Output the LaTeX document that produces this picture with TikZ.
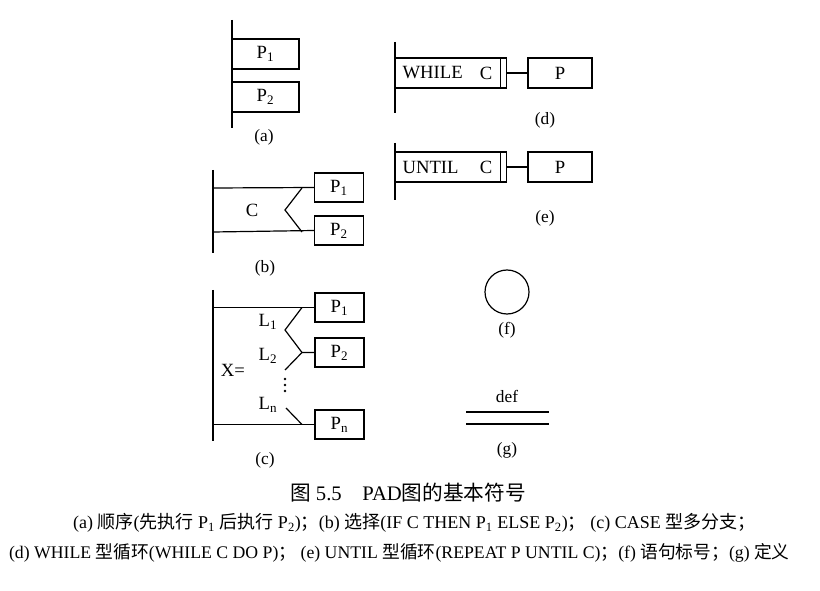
\documentclass[tikz,border=0pt]{standalone}
\usepackage{fontspec}
\setmainfont{Liberation Serif}
\newfontfamily\cjk{Noto Sans CJK SC}
\newcommand{\zh}[1]{{\cjk #1}}
\tikzset{
  caja/.style={draw, inner sep=0pt, minimum width=36.75pt, minimum height=21.75pt, font=\fontsize{14}{16}\selectfont},
  cajaa/.style={caja, minimum width=50.25pt, minimum height=22.5pt},
  cajap/.style={caja, minimum width=48pt, minimum height=22.5pt},
  cajabucle/.style={caja, minimum width=83.25pt, minimum height=22.5pt},
  texto/.style={inner sep=0pt, font=\fontsize{14}{16}\selectfont},
  rotulo/.style={font=\fontsize{13}{15}\selectfont},
  pie/.style={font=\fontsize{13.5}{16}\selectfont, anchor=west},
}
\begin{document}
\begin{tikzpicture}[x=0.75pt, y=-0.75pt, line width=0.9pt]
    \useasboundingbox (0,0) rectangle (820,591);

    % (a) Secuencia
    \coordinate (aarr) at (232,20);
    \coordinate (aab) at (232,128);
    \draw (aarr) -- (aab);
    \node[cajaa] (pa1) at (265.5,54) {P\textsubscript{1}};
    \node[cajaa] (pa2) at (265.5,97) {P\textsubscript{2}};
    \node[rotulo] (la) at (264,137) {(a)};

    % (b) Seleccion
    \coordinate (barr) at (213,170);
    \coordinate (bab) at (213,253);
    \draw (barr) -- (bab);
    \node[caja] (pb1) at (339,187.5) {P\textsubscript{1}};
    \node[caja] (pb2) at (339,230.5) {P\textsubscript{2}};
    \draw (213,188) -- (pb1.west);
    \draw (213,232) -- (pb2.west);
    \draw (302,188) -- (285,210) -- (302,232);
    \node[texto] (cb) at (252,210) {C};
    \node[rotulo] (lb) at (265,268) {(b)};

    % (c) CASE
    \coordinate (carr) at (213,290);
    \coordinate (cab) at (213,441);
    \draw (carr) -- (cab);
    \node[caja] (pc1) at (339.5,307.5) {P\textsubscript{1}};
    \node[caja] (pc2) at (339.5,352.5) {P\textsubscript{2}};
    \node[caja] (pcn) at (339.5,424.5) {P\textsubscript{n}};
    \draw (213,307.5) -- (pc1.west);
    \draw (213,424.5) -- (pcn.west);
    \draw (302,307.5) -- (285,330) -- (302,352.5) -- (pc2.west);
    \draw (302,352.5) -- (285,370);
    \draw (286,408) -- (302,424.5);
    \node[texto] (l1) at (268,322) {L\textsubscript{1}};
    \node[texto] (l2) at (268,356) {L\textsubscript{2}};
    \node[texto] (ln) at (268,405) {L\textsubscript{n}};
    \node[texto] (xc) at (233,370) {X=};
    % puntos suspensivos
    \foreach \y in {379,385,391}
        \fill (285,\y) circle (1.1pt);
    \node[rotulo] (lc) at (265,460) {(c)};

    % (d) Ciclo WHILE
    \coordinate (darr) at (395,42);
    \coordinate (dab) at (395,113);
    \draw (darr) -- (dab);
    \node[cajabucle, anchor=west] (wd) at (395,73) {};
    \node[texto, anchor=west] (tw) at (402,73) {WHILE};
    \node[texto, anchor=east] (cw) at (493,73) {C};
    \draw ([xshift=-5.25pt]wd.north east) -- ([xshift=-5.25pt]wd.south east);
    \node[cajap] (pd) at (560,73) {P};
    \draw (wd.east) -- (pd.west);
    \node[rotulo] (ld) at (545,120) {(d)};

    % (e) Ciclo UNTIL
    \coordinate (earr) at (395,143);
    \coordinate (eab) at (395,200);
    \draw (earr) -- (eab);
    \node[cajabucle, anchor=west] (ue) at (395,167) {};
    \node[texto, anchor=west] (tu) at (402,167) {UNTIL};
    \node[texto, anchor=east] (cu) at (493,167) {C};
    \draw ([xshift=-5.25pt]ue.north east) -- ([xshift=-5.25pt]ue.south east);
    \node[cajap] (pe) at (560,167) {P};
    \draw (ue.east) -- (pe.west);
    \node[rotulo] (le) at (545,218) {(e)};

    % (f) Etiqueta
    \node[draw, circle, minimum size=33pt, inner sep=0pt] (cf) at (507,292) {};
    \node[rotulo] (lf) at (507,330) {(f)};

    % (g) Definicion
    \node[rotulo] (def) at (507,396) {def};
    \draw (466,412) -- (549,412);
    \draw (466,424) -- (549,424);
    \node[rotulo] (lg) at (507,450) {(g)};

    % Pie de figura
    \node[font=\fontsize{15.5}{18}\selectfont] (tit) at (408,493)
        {\zh{图} 5.5\quad PAD\zh{图的基本符号}};
    \node[pie] (lin1) at (68,523)
        {(a) \zh{顺序}(\zh{先执行} P\textsubscript{1} \zh{后执行} P\textsubscript{2})\zh{；}(b) \zh{选择}(IF C THEN P\textsubscript{1} ELSE P\textsubscript{2})\zh{；} (c) CASE \zh{型多分支；}};
    \node[pie, font=\fontsize{13.3}{16}\selectfont] (lin2) at (4,553)
        {(d) WHILE \zh{型循环}(WHILE C DO P)\zh{；} (e) UNTIL \zh{型循环}(REPEAT P UNTIL C)\zh{；}(f) \zh{语句标号；}(g) \zh{定义}};

\end{tikzpicture}
\end{document}
